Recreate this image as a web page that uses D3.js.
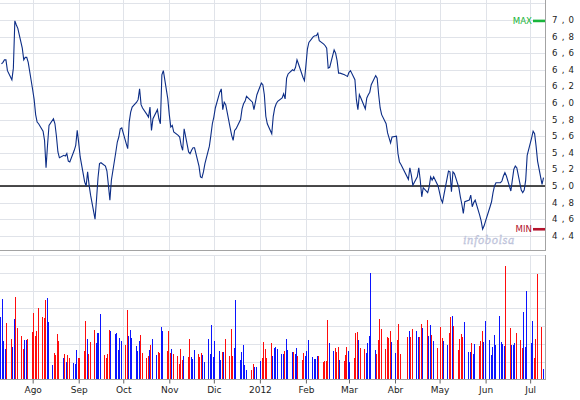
<!DOCTYPE html>
<html><head><meta charset="utf-8">
<script src="https://cdn.jsdelivr.net/npm/d3@7/dist/d3.min.js"></script>
<style>
html,body{margin:0;padding:0;background:#fff;}
svg{display:block;}
</style></head>
<body>
<svg id="chart" width="580" height="400"></svg>
<script>
// ---- data ----
const firstDay = "2011-07-11";
const lastDay = "2012-07-10";
const holidays = ["2011-12-26", "2012-04-06", "2012-04-09", "2012-05-01"];
const monthLabels = ["2012", "Feb", "Mar", "Abr", "May", "Jun", "Jul", "Ago", "Sep", "Oct", "Nov", "Dic"];
const priceTicks = [4.4, 4.6, 4.8, 5.0, 5.2, 5.4, 5.6, 5.8, 6.0, 6.2, 6.4, 6.6, 6.8, 7.0];
const priceGrid = [4.4, 4.6, 4.8, 5.0, 5.2, 5.4, 5.6, 5.8, 6.0, 6.2, 6.4, 6.6, 6.8, 7.0, 7.2];
const referencePrice = 5.0;
const volumeGrid = [1, 2, 3, 4, 5, 6, 7];

// closing price per trading day
const prices = [
  6.47, 6.49, 6.52, 6.52, 6.39,
  6.28, 6.42, 6.99, 6.94, 6.90,
  6.66, 6.52, 6.55, 6.55, 6.49,
  6.16, 6.04, 5.86, 5.77, 5.75,
  5.66, 5.55, 5.22, 5.49, 5.73,
  5.81, 5.75, 5.60, 5.41, 5.34,
  5.37, 5.36, 5.39, 5.30, 5.29,
  5.43, 5.49, 5.67, 5.52, 5.35,
  5.05, 5.00, 5.17, 5.01, 4.89,
  4.60, 4.84, 5.10, 5.27, 5.28,
  5.24, 5.18, 5.01, 4.83, 5.07,
  5.41, 5.53, 5.59, 5.69, 5.70,
  5.51, 5.45, 5.77, 5.89, 5.95,
  6.01, 6.04, 6.17, 5.98, 5.94,
  5.86, 5.83, 5.95, 5.67, 5.81,
  5.92, 5.81, 5.75, 6.34, 6.39,
  6.05, 5.86, 5.71, 5.73, 5.65,
  5.61, 5.59, 5.49, 5.43, 5.69,
  5.41, 5.39, 5.43, 5.46, 5.46,
  5.24, 5.11, 5.10, 5.17, 5.27,
  5.48, 5.61, 5.75, 5.83, 5.94,
  6.13, 6.17, 5.92, 6.01, 5.98,
  5.70, 5.61, 5.55, 5.67, 5.69,
  5.80, 5.93, 5.99, 6.02, 6.08,
  6.01, 5.92, 6.01, 6.10,
  6.24, 6.22, 6.10, 5.84, 5.75,
  5.63, 5.84, 5.94, 5.99, 6.02,
  6.06, 6.11, 6.05, 6.30, 6.35,
  6.40, 6.39, 6.43, 6.52, 6.47,
  6.31, 6.27, 6.45, 6.65, 6.73,
  6.80, 6.81, 6.81, 6.84, 6.75,
  6.71, 6.69, 6.66, 6.42, 6.43,
  6.64, 6.60, 6.51, 6.36, 6.36,
  6.34, 6.33, 6.32, 6.37, 6.39,
  6.28, 6.04, 5.92, 6.10, 6.06,
  5.93, 6.06, 6.10, 6.13, 6.22,
  6.33, 6.30, 6.10, 5.94, 5.86,
  5.75, 5.64, 5.58, 5.52, 5.59,
  5.60, 5.39, 5.29, 5.26,
  5.08, 5.22, 5.13, 5.01,
  5.11, 5.22, 5.07, 4.87, 4.98,
  4.92, 4.99, 5.11, 5.07, 5.11,
  5.00, 4.84, 4.80, 4.90,
  5.18, 5.17, 4.93, 5.17, 5.15,
  4.98, 4.87, 4.78, 4.67, 4.81,
  4.83, 4.89, 4.75, 4.80, 4.83,
  4.65, 4.58, 4.48, 4.52, 4.58,
  4.75, 4.81, 4.92, 5.00, 5.04,
  5.04, 5.06, 5.12, 5.16, 5.12,
  4.94, 5.07, 5.20, 5.24, 5.22,
  4.95, 4.92, 4.95, 5.07, 5.37,
  5.58, 5.66, 5.63, 5.48, 5.30,
  5.02, 5.10
];

// traded volume per trading day (millions)
const volumes = [
  3.53, 4.52, 2.16, 1.71, 3.15,
  2.27, 1.82, 3.40, 4.63, 2.87,
  2.44, 1.71, 2.21, 2.21, 2.27,
  2.68, 3.73, 2.44, 2.72, 4.03,
  3.53, 3.47, 4.47, 4.60, 3.23,
  0.81, 1.50, 1.37, 2.55, 2.16,
  1.22, 1.44, 0.96, 1.37, 1.22,
  0.92, 0.88, 1.65, 1.22, 1.22,
  1.59, 3.28, 2.27, 1.44, 2.12,
  2.78, 2.06, 2.61, 2.63, 3.68,
  1.37, 1.22, 1.44, 2.78, 2.72,
  2.57, 2.61, 1.67, 2.35, 2.16,
  1.95, 3.90, 2.44, 2.78, 2.35,
  1.89, 1.59, 2.16, 2.50, 1.46,
  1.20, 1.33, 1.65, 1.95, 2.27,
  1.37, 1.56, 1.48, 2.95, 2.72,
  1.59, 2.72, 1.48, 1.71, 1.44,
  1.33, 0.88, 1.71, 1.11, 1.31,
  1.26, 2.27, 1.26, 1.14, 1.65,
  1.44, 1.26, 1.48, 1.37, 0.96,
  2.27, 1.44, 3.06, 1.26, 2.16,
  1.59, 1.09, 1.56, 1.56, 2.27,
  1.31, 2.83, 1.31, 1.76, 4.47,
  1.09, 1.56, 1.93, 0.81, 0.53,
  0.53, 0.86, 0.69, 0.69,
  1.03, 1.22, 2.08, 1.71, 1.22,
  2.05, 1.31, 1.74, 1.82, 1.71,
  1.43, 1.43, 1.59, 2.27, 1.65,
  1.54, 1.54, 1.43, 1.76, 1.31,
  1.09, 1.48, 1.31, 1.59, 2.21,
  1.26, 1.14, 1.14, 1.31, 1.31,
  0.98, 1.03, 1.03, 3.34, 2.05,
  1.59, 1.76, 1.54, 1.82, 1.09,
  1.03, 1.37, 1.82, 1.59, 0.98,
  1.20, 2.61, 2.66, 2.21, 1.76,
  1.71, 1.48, 2.05, 2.44, 5.98,
  1.65, 1.43, 2.21, 3.40, 2.83,
  1.71, 2.38, 2.33, 2.72, 2.10,
  1.48, 2.21, 3.11, 1.43,
  2.38, 2.72, 2.38, 2.83,
  2.72, 2.38, 2.38, 3.11, 2.89,
  3.34, 2.44, 3.06, 2.50, 2.16,
  1.76, 2.95, 2.33, 2.16,
  1.93, 2.61, 3.51, 3.56, 3.00,
  1.65, 2.27, 2.55, 2.38, 3.23,
  1.54, 1.54, 2.05, 1.43, 2.00,
  1.88, 2.16, 2.72, 2.10, 3.28,
  2.21, 1.37, 1.82, 2.50, 1.93,
  3.56, 2.10, 1.99, 1.88, 6.38,
  2.89, 1.93, 1.93, 2.05, 2.61,
  2.21, 1.76, 3.79, 1.82, 4.97,
  2.05, 3.28, 1.20, 2.27, 5.93,
  2.95, 0.58
];

// ---- derived trading calendar ----
const parse = d3.timeParse("%Y-%m-%d");
const fmt = d3.timeFormat("%Y-%m-%d");
const holidaySet = new Set(holidays);
const days = d3.timeDay.range(parse(firstDay), d3.timeDay.offset(parse(lastDay), 1))
  .filter(d => d.getDay() !== 0 && d.getDay() !== 6 && !holidaySet.has(fmt(d)));
const n = Math.min(days.length, prices.length, volumes.length);
const rows = d3.range(n).map(i => ({
  date: days[i], price: prices[i], volume: volumes[i],
  up: i === 0 ? true : prices[i] >= prices[i - 1]
}));

// ---- layout ----
const svg = d3.select("#chart");
const plotRight = 545;
const priceTop = 0, priceBottom = 250;
const volTop = 255, volBottom = 379.3;

const x = d3.scaleTime()
  .domain([parse("2011-07-10"), parse("2012-07-11")])
  .range([0, plotRight]);
const y = d3.scaleLinear().domain([4.4, 7.0]).range([235.8, 20]);
const yv = d3.scaleLinear().domain([0, 7]).range([volBottom, volTop]);

const gridColor = "#e0e3e9";
const borderColor = "#a3a3a3";
const months = x.ticks(d3.timeMonth.every(1));

// price panel grid
const gp = svg.append("g").attr("shape-rendering", "crispEdges");
gp.selectAll("line.h").data(priceGrid).join("line")
  .attr("x1", 0).attr("x2", plotRight)
  .attr("y1", d => Math.round(y(d)) + 0.5).attr("y2", d => Math.round(y(d)) + 0.5)
  .attr("stroke", gridColor).attr("stroke-width", 1);
gp.selectAll("line.v").data(months).join("line")
  .attr("x1", d => Math.round(x(d)) + 0.5).attr("x2", d => Math.round(x(d)) + 0.5)
  .attr("y1", priceTop).attr("y2", priceBottom)
  .attr("stroke", gridColor).attr("stroke-width", 1);

// volume panel grid
const gv = svg.append("g").attr("shape-rendering", "crispEdges");
gv.selectAll("line.h").data(volumeGrid).join("line")
  .attr("x1", 0).attr("x2", plotRight)
  .attr("y1", d => Math.round(yv(d)) + 0.5).attr("y2", d => Math.round(yv(d)) + 0.5)
  .attr("stroke", gridColor).attr("stroke-width", 1);
gv.selectAll("line.v").data(months).join("line")
  .attr("x1", d => Math.round(x(d)) + 0.5).attr("x2", d => Math.round(x(d)) + 0.5)
  .attr("y1", volTop).attr("y2", volBottom)
  .attr("stroke", gridColor).attr("stroke-width", 1);

// reference line
svg.append("line")
  .attr("x1", 0).attr("x2", plotRight)
  .attr("y1", y(referencePrice)).attr("y2", y(referencePrice))
  .attr("stroke", "#111").attr("stroke-width", 1.4);

// watermark
svg.append("text")
  .attr("x", 463).attr("y", 244)
  .attr("font-family", "Liberation Serif, DejaVu Serif, serif")
  .attr("font-style", "italic")
  .attr("font-size", 12.5)
  .attr("letter-spacing", 0.6)
  .attr("fill", "#ccd0e2")
  .attr("stroke", "#b5bad6").attr("stroke-width", 0.3)
  .text("infobolsa");

// price line
svg.append("path")
  .datum(rows)
  .attr("fill", "none")
  .attr("stroke", "#0c2d86")
  .attr("stroke-width", 1.1)
  .attr("stroke-linejoin", "miter")
  .attr("d", d3.line().x(d => x(d.date)).y(d => y(d.price)));

// MAX / MIN markers
const maxP = d3.max(rows, d => d.price), minP = d3.min(rows, d => d.price);
const markers = [
  {label: "MAX", value: maxP, color: "#19b53b"},
  {label: "MIN", value: minP, color: "#b3122b"}
];
const gm = svg.append("g").selectAll("g").data(markers).join("g");
gm.append("rect")
  .attr("x", 533).attr("width", plotRight - 533)
  .attr("y", d => y(d.value) - 1.2).attr("height", 2.6)
  .attr("fill", d => d.color);
gm.append("text")
  .attr("x", 532).attr("y", d => y(d.value))
  .attr("dy", "0.36em")
  .attr("text-anchor", "end")
  .attr("font-family", "DejaVu Sans, Verdana, sans-serif")
  .attr("font-size", 8.6)
  .attr("fill", d => d.color)
  .text(d => d.label);

// right axis labels
const fmtP = v => d3.format(".1f")(v).replace(".", ",");
svg.append("g").selectAll("text").data(priceTicks).join("text")
  .attr("x", 552).attr("y", d => y(d))
  .attr("dy", "0.36em")
  .attr("font-family", "DejaVu Sans, Verdana, sans-serif")
  .attr("font-size", 8.6)
  .attr("letter-spacing", 4.2)
  .attr("fill", "#222")
  .text(fmtP);

// volume bars
svg.append("g").attr("shape-rendering", "crispEdges")
  .selectAll("rect").data(rows).join("rect")
  .attr("x", d => Math.round(x(d.date) - 1))
  .attr("width", 1)
  .attr("y", d => yv(d.volume))
  .attr("height", d => volBottom - yv(d.volume))
  .attr("fill", d => d.up ? "#0a14ff" : "#ff0c0c");

// borders
const gb = svg.append("g").attr("shape-rendering", "crispEdges")
  .attr("stroke", borderColor).attr("stroke-width", 1);
gb.append("line").attr("x1", 0).attr("x2", plotRight + 1).attr("y1", priceBottom + 0.5).attr("y2", priceBottom + 0.5);
gb.append("line").attr("x1", plotRight + 0.5).attr("x2", plotRight + 0.5).attr("y1", priceTop).attr("y2", priceBottom);
gb.append("line").attr("x1", plotRight + 0.5).attr("x2", plotRight + 0.5).attr("y1", volTop).attr("y2", volBottom);

// time axis
const monthName = d => monthLabels[d.getMonth()] === "2012" ? String(d.getFullYear()) : monthLabels[d.getMonth()];
const xAxis = d3.axisBottom(x)
  .tickValues(months)
  .tickSize(4)
  .tickPadding(3)
  .tickFormat(monthName);
const ax = svg.append("g")
  .attr("transform", `translate(0,${Math.round(volBottom) + 0.5})`)
  .call(xAxis);
ax.select(".domain").attr("stroke", borderColor).attr("d", `M0,0H${plotRight + 1}`);
ax.selectAll(".tick line").attr("stroke", "#666");
ax.selectAll(".tick text")
  .attr("font-family", "DejaVu Sans, Verdana, sans-serif")
  .attr("font-size", 9)
  .attr("fill", "#222");
</script>
</body></html>
